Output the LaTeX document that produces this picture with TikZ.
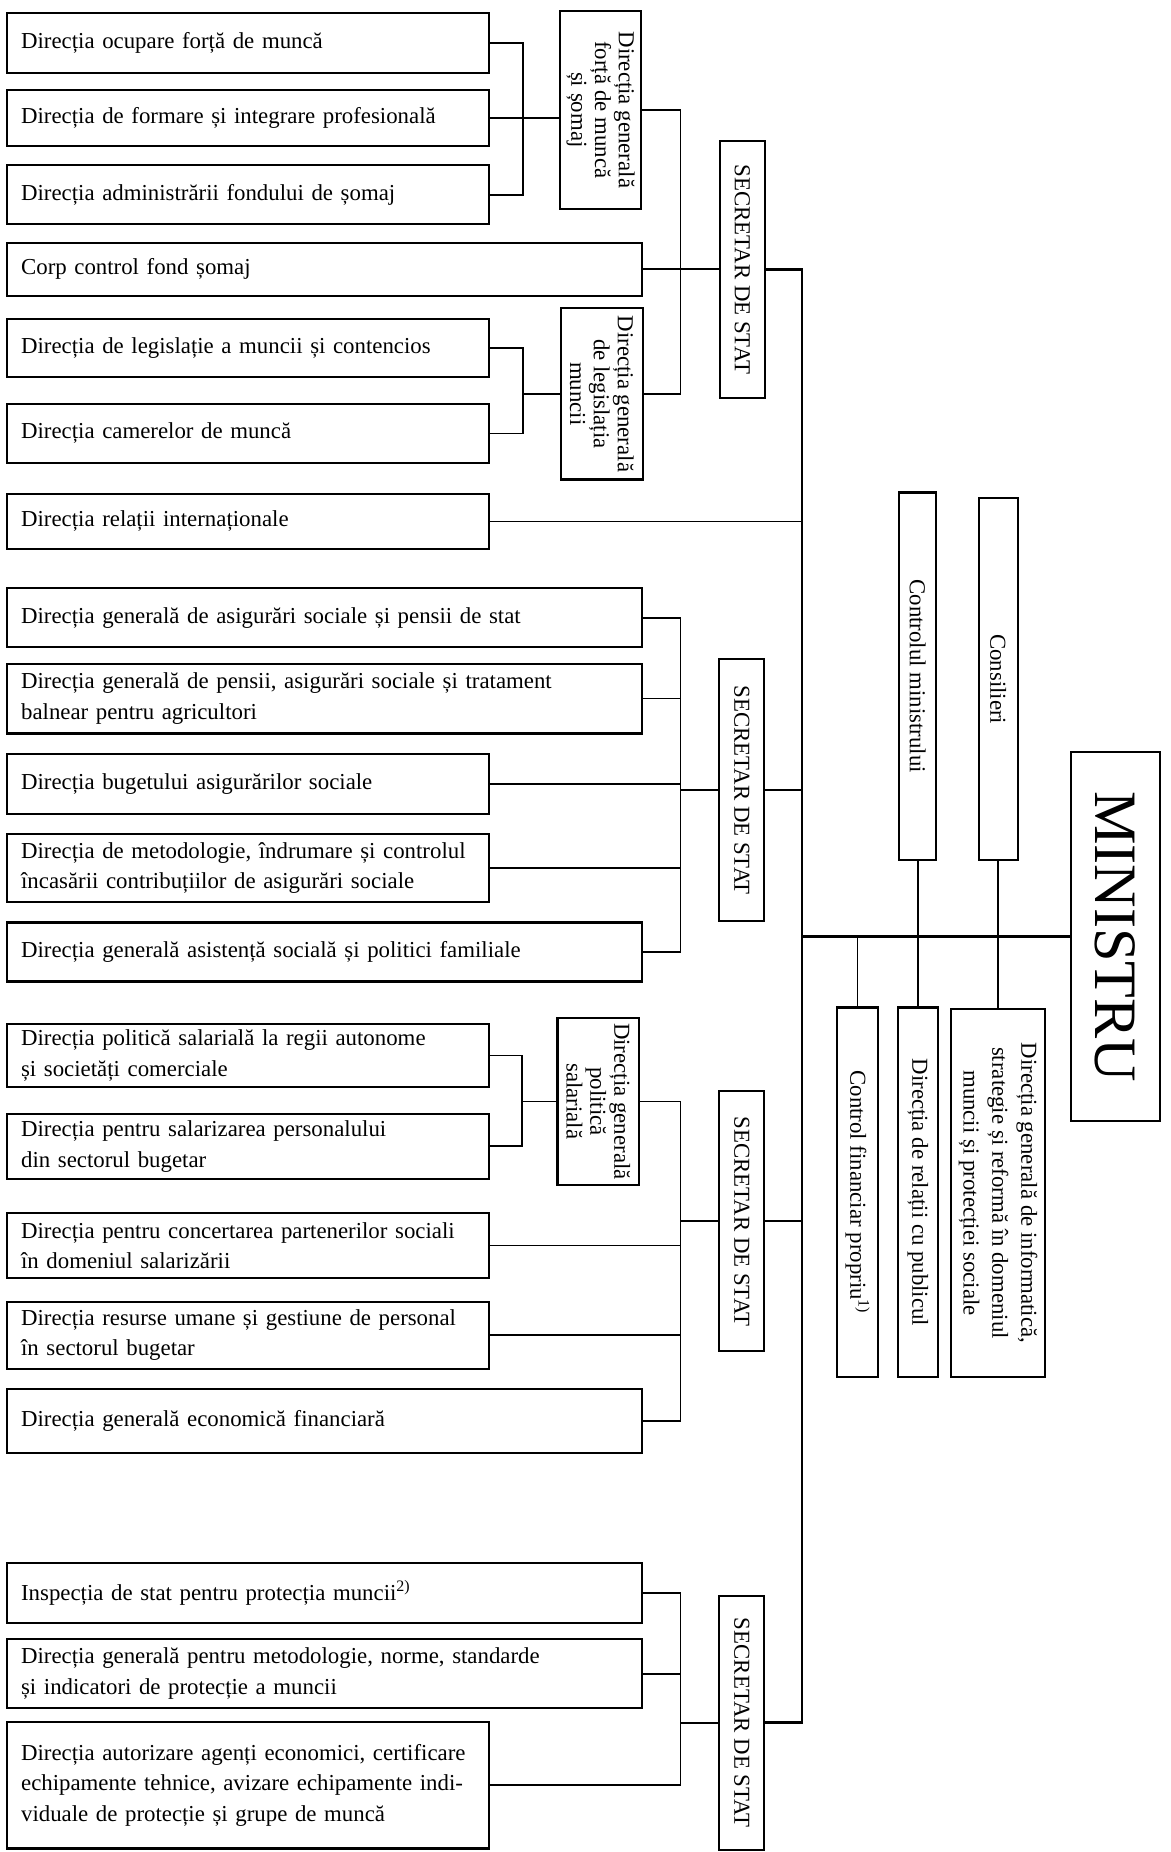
\documentclass[tikz,border=0pt]{standalone}
\usepackage{fontspec}
\setmainfont{Liberation Serif}

\begin{document}
\begin{tikzpicture}[
    dirbox/.style={draw, line width=1pt, anchor=west, align=left, inner xsep=0.24cm, inner ysep=0pt, font=\fontsize{11}{14.7}\selectfont},
    narrowdir/.style={dirbox, text width=7.68cm},
    widedir/.style={dirbox, text width=10.28cm},
    genbox/.style={draw, line width=1pt, rotate=-90, align=center, inner sep=1pt, minimum height=1.38cm, font=\fontsize{11}{11.5}\selectfont},
    secbox/.style={draw, line width=1pt, rotate=-90, inner sep=1pt, minimum height=0.76cm, font=\fontsize{11}{13}\selectfont},
    sidebox/.style={draw, line width=1pt, rotate=-90, align=center, inner sep=1pt, minimum height=0.66cm, font=\fontsize{11}{13.9}\selectfont},
    link/.style={line width=0.8pt},
    trunk/.style={line width=1.2pt}
]
    \useasboundingbox (0,0) rectangle (19.82,-31.36);

    % Group 1: labour force and labour law
    \node[narrowdir, minimum height=1.02cm] (ocupare) at (0.1,-0.73) {Direcția ocupare forță de muncă};
    \node[narrowdir, minimum height=0.96cm] (formare) at (0.1,-2.0) {Direcția de formare și integrare profesională};
    \node[narrowdir, minimum height=1.0cm] (somaj) at (0.1,-3.3) {Direcția administrării fondului de șomaj};
    \node[widedir, minimum height=0.9cm] (corp) at (0.1,-4.56) {Corp control fond șomaj};
    \node[narrowdir, minimum height=0.98cm] (legislatie) at (0.1,-5.89) {Direcția de legislație a muncii și contencios};
    \node[narrowdir, minimum height=1.0cm] (camere) at (0.1,-7.34) {Direcția camerelor de muncă};
    \node[narrowdir, minimum height=0.94cm] (relint) at (0.1,-8.83) {Direcția relații internaționale};

    % rotated boxes: .south is the left side, .north the right side
    \node[genbox, minimum width=3.36cm] (dgfm) at (10.17,-1.86) {Direcția generală\\forță de muncă\\și șomaj};
    \node[genbox, minimum width=2.9cm] (dglm) at (10.19,-6.67) {Direcția generală\\de legislația\\muncii};
    \node[secbox, minimum width=4.36cm] (sec1) at (12.57,-4.56) {SECRETAR DE STAT};

    % Group 2: social insurance
    \node[widedir, minimum height=1.0cm] (asig) at (0.1,-10.46) {Direcția generală de asigurări sociale și pensii de stat};
    \node[widedir, minimum height=1.18cm] (pensii) at (0.1,-11.83) {Direcția generală de pensii, asigurări sociale și tratament\\balnear pentru agricultori};
    \node[narrowdir, minimum height=1.02cm] (buget) at (0.1,-13.27) {Direcția bugetului asigurărilor sociale};
    \node[narrowdir, minimum height=1.16cm] (metod) at (0.1,-14.7) {Direcția de metodologie, îndrumare și controlul\\încasării contribuțiilor de asigurări sociale};
    \node[widedir, minimum height=1.0cm] (asist) at (0.1,-16.12) {Direcția generală asistență socială și politici familiale};
    \node[secbox, minimum width=4.44cm] (sec2) at (12.56,-13.38) {SECRETAR DE STAT};

    % Group 3: wages
    \node[narrowdir, minimum height=1.06cm] (regii) at (0.1,-17.87) {Direcția politică salarială la regii autonome\\și societăți comerciale};
    \node[narrowdir, minimum height=1.1cm] (bugetar) at (0.1,-19.41) {Direcția pentru salarizarea personalului\\din sectorul bugetar};
    \node[narrowdir, minimum height=1.1cm] (concert) at (0.1,-21.09) {Direcția pentru concertarea partenerilor sociali\\în domeniul salarizării};
    \node[narrowdir, minimum height=1.14cm] (resurse) at (0.1,-22.61) {Direcția resurse umane și gestiune de personal\\în sectorul bugetar};
    \node[widedir, minimum height=1.08cm] (econ) at (0.1,-24.06) {Direcția generală economică financiară};
    \node[genbox, minimum width=2.82cm] (dgps) at (10.13,-18.65) {Direcția generală\\politică\\salarială};
    \node[secbox, minimum width=4.4cm] (sec3) at (12.56,-20.68) {SECRETAR DE STAT};

    % Group 4: labour protection
    \node[widedir, minimum height=1.02cm] (inspect) at (0.1,-26.97) {Inspecția de stat pentru protecția muncii\textsuperscript{2)}};
    \node[widedir, minimum height=1.16cm] (norme) at (0.1,-28.34) {Direcția generală pentru metodologie, norme, standarde\\și indicatori de protecție a muncii};
    \node[narrowdir, minimum height=2.14cm] (autoriz) at (0.1,-30.23) {Direcția autorizare agenți economici, certificare\\echipamente tehnice, avizare echipamente indi-\\viduale de protecție și grupe de muncă};
    \node[secbox, minimum width=4.3cm] (sec4) at (12.56,-29.17) {SECRETAR DE STAT};

    % Minister and staff
    \node[draw, line width=1pt, rotate=-90, minimum width=6.24cm, minimum height=1.5cm, font=\fontsize{29}{32}\selectfont] (ministru) at (18.89,-15.86) {MINISTRU};
    \node[sidebox, minimum width=6.22cm, minimum height=0.62cm] (controlul) at (15.54,-11.45) {Controlul ministrului};
    \node[sidebox, minimum width=6.12cm] (consilieri) at (16.9,-11.5) {Consilieri};
    \node[sidebox, minimum width=6.26cm, minimum height=0.68cm] (cfp) at (14.52,-20.19) {Control financiar propriu\textsuperscript{1)}};
    \node[sidebox, minimum width=6.26cm, minimum height=0.68cm] (relpub) at (15.54,-20.19) {Direcția de relații cu publicul};
    \node[sidebox, minimum width=6.24cm, minimum height=1.6cm] (dginf) at (16.9,-20.2) {Direcția generală de informatică,\\strategie și reformă în domeniul\\muncii și protecției sociale};

    % Junctions
    \coordinate (fmbus) at (8.86,-2.0);
    \coordinate (lmbus) at (8.86,-6.67);
    \coordinate (psbus) at (8.84,-18.65);
    \coordinate (s1bus) at (11.52,-4.56);
    \coordinate (s2bus) at (11.52,-13.38);
    \coordinate (s3bus) at (11.52,-20.68);
    \coordinate (s4bus) at (11.52,-29.17);
    \coordinate (trunkend) at (13.58,-29.17);

    % Edges (group 1)
    \draw[link] (ocupare.east) -| (fmbus) |- (somaj.east);
    \draw[link] (formare.east) -- (formare.east -| dgfm.south);
    \draw[link] (legislatie.east) -| (lmbus) |- (camere.east);
    \draw[link] (lmbus) -- (dglm.south);
    \draw[link] (dgfm.north) -| (s1bus) |- (dglm.north);
    \draw[link] (corp.east) -- (sec1.south);

    % Edges (group 2)
    \draw[link] (asig.east) -| (s2bus) |- (asist.east);
    \draw[link] (pensii.east) -- (pensii.east -| s2bus);
    \draw[link] (buget.east) -- (buget.east -| s2bus);
    \draw[link] (metod.east) -- (metod.east -| s2bus);
    \draw[link] (s2bus) -- (sec2.south);

    % Edges (group 3)
    \draw[link] (regii.east) -| (psbus) |- (bugetar.east);
    \draw[link] (psbus) -- (dgps.south);
    \draw[link] (dgps.north) -| (s3bus) |- (econ.east);
    \draw[link] (concert.east) -- (concert.east -| s3bus);
    \draw[link] (resurse.east) -- (resurse.east -| s3bus);
    \draw[link] (s3bus) -- (sec3.south);

    % Edges (group 4)
    \draw[link] (inspect.east) -| (s4bus) |- (autoriz.east);
    \draw[link] (norme.east) -- (norme.east -| s4bus);
    \draw[link] (s4bus) -- (sec4.south);

    % Edges (trunk to minister)
    \draw[trunk] (sec1.north) -| (trunkend) -- (sec4.north);
    \draw[link] (relint.east) -- (relint.east -| trunkend);
    \draw[link] (sec2.north) -- (sec2.north -| trunkend);
    \draw[link] (sec3.north) -- (sec3.north -| trunkend);
    \draw[trunk] (ministru.south) -- (ministru.south -| trunkend);

    % Edges (staff)
    \draw[link] (controlul.east) -- (controlul.east |- ministru.south);
    \draw[link] (consilieri.east) -- (consilieri.east |- ministru.south);
    \draw[link] (cfp.west) -- (cfp.west |- ministru.south);
    \draw[link] (relpub.west) -- (relpub.west |- ministru.south);
    \draw[link] (dginf.west) -- (dginf.west |- ministru.south);

\end{tikzpicture}
\end{document}
